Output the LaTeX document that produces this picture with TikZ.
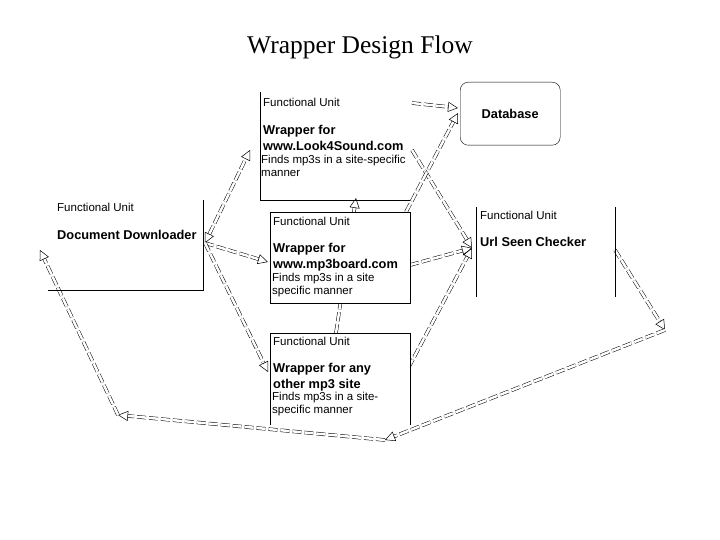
\documentclass[tikz,border=0pt]{standalone}
\usepackage{fontspec}
\setmainfont{Liberation Sans}
\newfontfamily\titlefont{Liberation Serif}
\usetikzlibrary{arrows.meta}
\tikzset{
  unit/.style={anchor=north west,minimum width=140pt,minimum height=90pt,inner sep=0pt,fill=white},
  small/.style={font=\fontsize{11.5}{13}\selectfont,anchor=north west,inner sep=0pt,align=left},
  big/.style={font=\fontsize{12.8}{16}\selectfont\bfseries,anchor=north west,inner sep=0pt,align=left},
  flow/.style={draw,double,double distance=2.5pt,dash pattern=on 9pt off 3pt,line width=.5pt,
    -{Triangle[open,length=10pt,width=10pt]}},
  flows/.style={flow,{Triangle[open,length=10pt,width=10pt]}-{Triangle[open,length=10pt,width=10pt]}}
}
\begin{document}
\begin{tikzpicture}[x=1pt,y=-1pt]
  \useasboundingbox (0,0) rectangle (720,540);
  \node[font=\titlefont\fontsize{25.5}{30}\selectfont] (title) at (360,47) {Wrapper Design Flow};
  % connection points
  \coordinate (dl) at (205,243);
  \coordinate (dlw) at (40,250);
  \coordinate (lw) at (118,415);
  \coordinate (lb) at (385,440);
  \coordinate (rb) at (665,330);
  \coordinate (us) at (472,248);
  \coordinate (usr) at (615,250);
  % links behind the boxes
  \draw[flow] (336,333) -- (356,198);
  \draw[flows] (dl) -- (250,150);
  \draw[flow] (dl) -- (268,262);
  \draw[flow] (dl) -- (268,372);
  \draw[flow] (lb) -- (lw);
  \draw[flow] (lw) -- (dlw);
  \draw[flow] (usr) -- (rb);
  \draw[flow] (rb) -- (lb);
  \draw[flow] (412,150) -- (us);
  \draw[flow] (410,265) -- (us);
  \draw[flow] (403,378) -- (us);
  \draw[flow] (406,212) -- (458,113);
  \draw[flow] (412,103) -- (458,108);
  % look4sound
  \node[unit,minimum width=150pt,minimum height=108pt,fill=none] (ls) at (260,92) {};
  \draw (ls.north west) -- (ls.south west) -- (ls.south east);
  \node[small] at (263,98) {Functional Unit};
  \node[big] at (263,125) {Wrapper for\\www.Look4Sound.com};
  \node[small] at (261,155) {Finds mp3s in a site-specific\\manner};
  % database
  \node[draw,rounded corners=8pt,minimum width=100pt,minimum height=63pt,anchor=north west,
    font=\fontsize{12.8}{16}\selectfont\bfseries] (db) at (460,82) {Database};
  % document downloader
  \node[unit,minimum width=155pt,fill=none] (dd) at (48,200) {};
  \draw (dd.north east) -- (dd.south east) -- (dd.south west);
  \node[small] at (57,203) {Functional Unit};
  \node[big] at (57,230) {Document Downloader};
  % mp3board
  \node[unit,draw,minimum height=91pt] (mb) at (270,212) {};
  \node[small] at (273,217) {Functional Unit};
  \node[big] at (273,243) {Wrapper for\\www.mp3board.com};
  \node[small] at (272,273) {Finds mp3s in a site\\specific manner};
  % any other
  \node[unit,minimum height=92pt] (ao) at (270,333) {};
  \draw (ao.south west) -- (ao.north west) -- (ao.north east) -- (ao.south east);
  \node[small] at (273,337) {Functional Unit};
  \node[big] at (273,363) {Wrapper for any\\other mp3 site};
  \node[small] at (272,392) {Finds mp3s in a site-\\specific manner};
  % url seen checker
  \node[unit,minimum width=139pt,fill=none] (uc) at (476,207) {};
  \draw (uc.north west) -- (uc.south west);
  \draw (uc.north east) -- (uc.south east);
  \node[small] at (480,211) {Functional Unit};
  \node[big] at (480,237) {Url Seen Checker};
\end{tikzpicture}
\end{document}
